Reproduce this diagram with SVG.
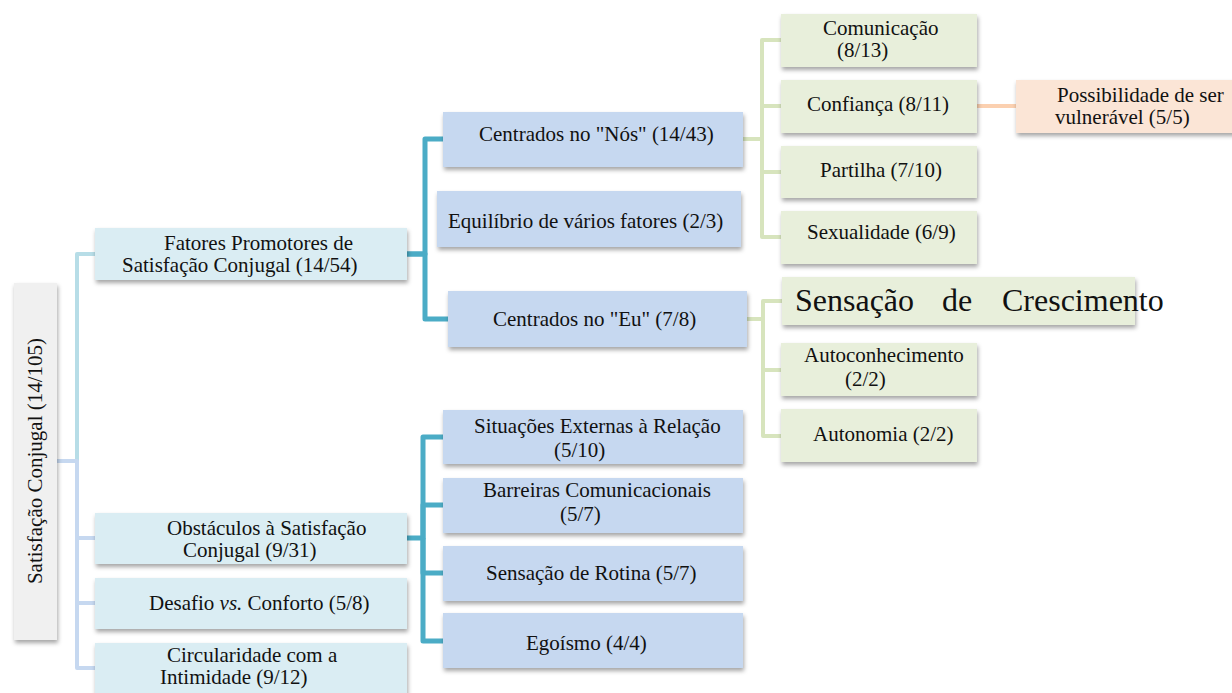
<svg xmlns="http://www.w3.org/2000/svg" width="1232" height="693" viewBox="0 0 1232 693">
<defs>
<filter id="sh" x="-10%" y="-20%" width="130%" height="160%">
<feDropShadow dx="1" dy="3" stdDeviation="2" flood-color="#000" flood-opacity="0.35"/>
</filter>
<style>
text{font-size:21px;fill:#111}
.root{fill:#f0f0f0}
.l1{fill:#daedf3}
.l2{fill:#c6d8f0}
.l3{fill:#e8efdb}
.pe{fill:#fbe5d6}
.n rect{filter:url(#sh)}
.c{fill:none;stroke-linejoin:round}
.ct{stroke:#b7dde7;stroke-width:4}
.cb{stroke:#c6d8f0;stroke-width:4}
.cd{stroke:#4bacc6;stroke-width:5}
.cg{stroke:#d7e4bd;stroke-width:4}
.cp{stroke:#fbd0b0;stroke-width:4}
</style>
</defs>
<rect width="1232" height="693" fill="#fff"/>
<g id="connectors">
<path class="c ct" d="M57,461 H77 V254 H95"/>
<path class="c cb" d="M57,461 H77 V538 H95"/>
<path class="c cb" d="M77,538 V603 H95"/>
<path class="c cb" d="M77,603 V668 H95"/>
<path class="c cd" d="M407,254 H425 V139 H443"/>
<path class="c cd" d="M407,254 H425 V319 H448"/>
<path class="c cd" d="M407,538 H423 V437 H443"/>
<path class="c cd" d="M423,538 V505 H443"/>
<path class="c cd" d="M423,538 V573 H443"/>
<path class="c cd" d="M423,538 V641 H443"/>
<path class="c cg" d="M743,139 H762 V40 H781"/>
<path class="c cg" d="M762,139 V106 H781"/>
<path class="c cg" d="M762,139 V172 H781"/>
<path class="c cg" d="M762,139 V237 H781"/>
<path class="c cg" d="M747,319 H763 V301 H782"/>
<path class="c cg" d="M763,319 V370 H781"/>
<path class="c cg" d="M763,319 V436 H781"/>
<path class="c cp" d="M977,106 H1016"/>
</g>
<g id="nodes" font-family="Liberation Serif, Times New Roman, serif">
<g id="root" class="n">
<rect class="root" x="14" y="283" width="43" height="357"/>
<text transform="translate(42,461) rotate(-90)" text-anchor="middle">Satisfação Conjugal (14/105)</text>
</g>
<g id="fatores" class="n">
<rect class="l1" x="95" y="228" width="312" height="52"/>
<text x="164" y="250">Fatores Promotores de</text>
<text x="122" y="272">Satisfação Conjugal (14/54)</text>
</g>
<g id="obstaculos" class="n">
<rect class="l1" x="95" y="513" width="312" height="51"/>
<text x="167" y="535">Obstáculos à Satisfação</text>
<text x="183" y="557">Conjugal (9/31)</text>
</g>
<g id="desafio" class="n">
<rect class="l1" x="95" y="578" width="312" height="51"/>
<text x="149" y="610">Desafio <tspan font-style="italic">vs.</tspan> Conforto (5/8)</text>
</g>
<g id="circularidade" class="n">
<rect class="l1" x="95" y="643" width="312" height="55"/>
<text x="167" y="662">Circularidade com a</text>
<text x="160" y="684">Intimidade (9/12)</text>
</g>
<g id="nos" class="n">
<rect class="l2" x="443" y="112" width="300" height="55"/>
<text x="479" y="141">Centrados no "Nós" (14/43)</text>
</g>
<g id="equilibrio" class="n">
<rect class="l2" x="437" y="191" width="304" height="56"/>
<text x="448" y="228">Equilíbrio de vários fatores (2/3)</text>
</g>
<g id="eu" class="n">
<rect class="l2" x="448" y="291" width="299" height="56"/>
<text x="493" y="326">Centrados no "Eu" (7/8)</text>
</g>
<g id="situacoes" class="n">
<rect class="l2" x="443" y="410" width="300" height="54"/>
<text x="474" y="433">Situações Externas à Relação</text>
<text x="554" y="457">(5/10)</text>
</g>
<g id="barreiras" class="n">
<rect class="l2" x="443" y="478" width="300" height="55"/>
<text x="483" y="497">Barreiras Comunicacionais</text>
<text x="560" y="521">(5/7)</text>
</g>
<g id="rotina" class="n">
<rect class="l2" x="443" y="546" width="300" height="55"/>
<text x="486" y="580">Sensação de Rotina (5/7)</text>
</g>
<g id="egoismo" class="n">
<rect class="l2" x="443" y="613" width="300" height="55"/>
<text x="526" y="650">Egoísmo (4/4)</text>
</g>
<g id="comunicacao" class="n">
<rect class="l3" x="781" y="14" width="196" height="53"/>
<text x="823" y="35">Comunicação</text>
<text x="837" y="57">(8/13)</text>
</g>
<g id="confianca" class="n">
<rect class="l3" x="781" y="80" width="196" height="53"/>
<text x="807" y="111">Confiança (8/11)</text>
</g>
<g id="partilha" class="n">
<rect class="l3" x="781" y="146" width="196" height="52"/>
<text x="820" y="177">Partilha (7/10)</text>
</g>
<g id="sexualidade" class="n">
<rect class="l3" x="781" y="211" width="196" height="53"/>
<text x="807" y="239">Sexualidade (6/9)</text>
</g>
<g id="possibilidade" class="n">
<rect class="pe" x="1016" y="80" width="230" height="53"/>
<text x="1057" y="102">Possibilidade de ser</text>
<text x="1055" y="124">vulnerável (5/5)</text>
</g>
<g id="crescimento" class="n">
<rect class="l3" x="782" y="277" width="353" height="48"/>
<text y="311" font-size="32" style="font-size:32px"><tspan x="795">Sensação</tspan><tspan x="942">de</tspan><tspan x="1002">Crescimento</tspan></text>
</g>
<g id="autoconhecimento" class="n">
<rect class="l3" x="781" y="343" width="196" height="53"/>
<text x="804" y="362">Autoconhecimento</text>
<text x="845" y="386">(2/2)</text>
</g>
<g id="autonomia" class="n">
<rect class="l3" x="781" y="409" width="196" height="53"/>
<text x="813" y="441">Autonomia (2/2)</text>
</g>
</g>
</svg>
